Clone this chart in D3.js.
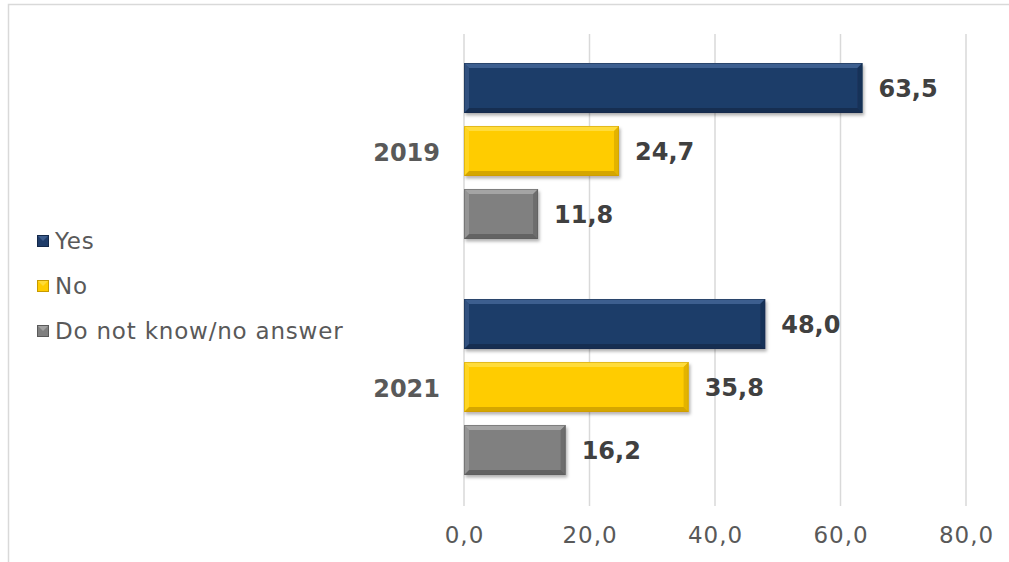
<!DOCTYPE html>
<html>
<head>
<meta charset="utf-8">
<script src="https://cdn.jsdelivr.net/npm/d3@7/dist/d3.min.js"></script>
<style>
  html, body { margin: 0; padding: 0; background: #fff; }
  svg { display: block; }
  text { font-family: "DejaVu Sans", Verdana, sans-serif; }
</style>
</head>
<body>
<svg id="chart" width="1009" height="562"></svg>
<script>
// Survey answers by year (percent)
const years = ["2019", "2021"];
const seriesNames = ["Yes", "No", "Do not know/no answer"];
const yesValues = [63.5, 48.0];
const noValues = [24.7, 35.8];
const dkValues = [11.8, 16.2];
const tickValues = [0, 20, 40, 60, 80];

const seriesValues = [yesValues, noValues, dkValues];
const colors = ["#1f3c69", "#ffcc00", "#808080"];
const lightColors = ["#4a6b9c", "#ffe14d", "#b0b0b0"];
const darkColors = ["#14294a", "#c79a00", "#5a5a5a"];

const svg = d3.select("#chart");
const W = 1009, H = 562;

// outer frame
svg.append("rect")
  .attr("x", 8.5).attr("y", 4.5)
  .attr("width", W + 10).attr("height", H + 10)
  .attr("fill", "none").attr("stroke", "#d9d9d9").attr("stroke-width", 1.5);

const plot = { left: 464, right: 966, top: 34, bottom: 506 };

const x = d3.scaleLinear().domain([0, 80]).range([plot.left, plot.right]);
const y0 = d3.scaleBand().domain(years).range([plot.top, plot.bottom]).paddingInner(0).paddingOuter(0);
const y1 = d3.scaleBand().domain(seriesNames).range([29, 205]).paddingInner(0.206).paddingOuter(0);

const defs = svg.append("defs");
const shadow = defs.append("filter").attr("id", "shadow")
  .attr("x", "-5%").attr("y", "-20%").attr("width", "115%").attr("height", "150%");
shadow.append("feDropShadow").attr("dx", 1.5).attr("dy", 2.5).attr("stdDeviation", 1.5)
  .attr("flood-color", "#000").attr("flood-opacity", 0.3);

// gridlines
svg.append("g")
  .selectAll("line")
  .data(tickValues)
  .join("line")
  .attr("x1", d => x(d)).attr("x2", d => x(d))
  .attr("y1", plot.top).attr("y2", plot.bottom)
  .attr("stroke", "#d9d9d9").attr("stroke-width", 1.5);

// x axis labels
const fmt = d => d3.format(".1f")(d).replace(".", ",");
const axis = d3.axisBottom(x).tickValues(tickValues).tickFormat(fmt).tickSize(0).tickPadding(0);
const axisG = svg.append("g").attr("transform", `translate(0,${plot.bottom + 21})`).call(axis);
axisG.select(".domain").remove();
axisG.selectAll("text")
  .attr("font-size", 23).attr("fill", "#595959")
  .attr("letter-spacing", 1)
  .attr("font-family", "'DejaVu Sans', Verdana, sans-serif")
  .attr("dy", "0.71em");

// bars with bevelled edges
const b = 5;
years.forEach((yr, i) => {
  const g = svg.append("g").attr("transform", `translate(0,${y0(yr)})`);
  seriesNames.forEach((s, j) => {
    const v = seriesValues[j][i];
    const bx = x(0), by = y1(s), bw = x(v) - x(0), bh = y1.bandwidth();
    const bar = g.append("g").attr("filter", "url(#shadow)");
    bar.append("rect").attr("x", bx).attr("y", by).attr("width", bw).attr("height", bh)
      .attr("fill", colors[j]);
    bar.append("polygon")
      .attr("points", [[bx, by], [bx + bw, by], [bx + bw - b, by + b], [bx + b, by + b]].join(" "))
      .attr("fill", lightColors[j]).attr("opacity", 0.75);
    bar.append("polygon")
      .attr("points", [[bx, by + bh], [bx + bw, by + bh], [bx + bw - b, by + bh - b], [bx + b, by + bh - b]].join(" "))
      .attr("fill", darkColors[j]).attr("opacity", 0.75);
    bar.append("polygon")
      .attr("points", [[bx, by], [bx + b, by + b], [bx + b, by + bh - b], [bx, by + bh]].join(" "))
      .attr("fill", lightColors[j]).attr("opacity", 0.45);
    bar.append("polygon")
      .attr("points", [[bx + bw, by], [bx + bw - b, by + b], [bx + bw - b, by + bh - b], [bx + bw, by + bh]].join(" "))
      .attr("fill", darkColors[j]).attr("opacity", 0.5);
    bar.append("rect").attr("x", bx + 0.5).attr("y", by + 0.5).attr("width", bw - 1).attr("height", bh - 1)
      .attr("fill", "none").attr("stroke", darkColors[j]).attr("stroke-opacity", 0.5);
    // value label
    g.append("text")
      .attr("x", x(v) + 16).attr("y", by + bh / 2)
      .attr("dy", "0.36em")
      .attr("font-size", 24).attr("font-weight", "bold").attr("fill", "#404040")
      .text(fmt(v));
  });
  // category label
  svg.append("text")
    .attr("x", plot.left - 24).attr("y", y0(yr) + y0.bandwidth() / 2)
    .attr("dy", "0.36em").attr("text-anchor", "end")
    .attr("font-size", 24).attr("font-weight", "bold").attr("fill", "#595959")
    .text(yr);
});

// legend
const legend = svg.append("g").attr("transform", "translate(37,241)");
seriesNames.forEach((s, j) => {
  const lg = legend.append("g").attr("transform", `translate(0,${j * 45})`);
  lg.append("rect").attr("x", 0.5).attr("y", -5.5).attr("width", 11).attr("height", 11)
    .attr("fill", colors[j]).attr("stroke", darkColors[j]).attr("stroke-width", 1);
  lg.append("polygon").attr("points", "1,-5 11,-5 6,0").attr("fill", lightColors[j]).attr("opacity", 0.7);
  lg.append("text").attr("x", 18).attr("y", 0).attr("dy", "0.36em")
    .attr("font-size", 23).attr("letter-spacing", 0.8).attr("fill", "#595959").text(s);
});
</script>
</body>
</html>
